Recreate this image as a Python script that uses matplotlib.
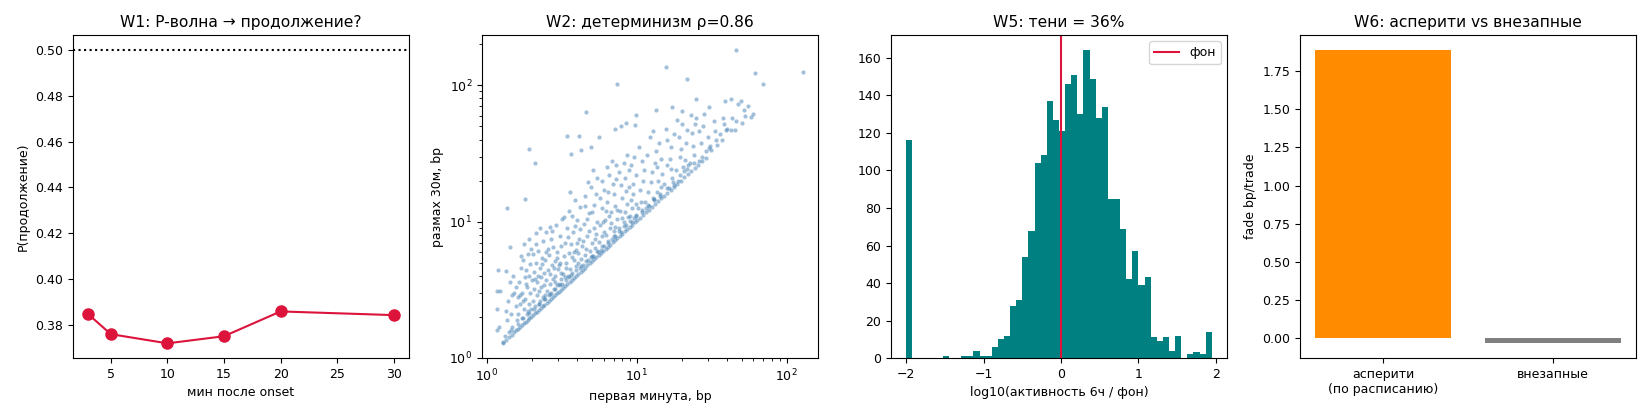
import numpy as np
import matplotlib
matplotlib.use("Agg")
import matplotlib.pyplot as plt

plt.rcParams['font.size'] = 9

# ---- W1: P-wave -> continuation
minutes = [3, 5, 10, 15, 20, 30]
p_cont = [0.3848, 0.3761, 0.3721, 0.3752, 0.3860, 0.3844]

# ---- W2: first minute vs 30m range
edge_pts = [(1.28, 1.3), (1.34, 1.36), (1.4, 1.42), (1.46, 1.48), (1.52, 1.54), (1.57, 1.6),
            (1.62, 1.64), (1.67, 1.7), (1.72, 1.75), (1.77, 1.8), (1.82, 1.85), (1.87, 1.9),
            (1.92, 1.95), (1.97, 2.0), (2.03, 2.06), (2.09, 2.12), (2.15, 2.18), (2.21, 2.25),
            (2.28, 2.32), (2.35, 2.39), (2.42, 2.46), (2.5, 2.54), (2.58, 2.62), (2.66, 2.7),
            (2.74, 2.79), (2.83, 2.88), (2.92, 2.97), (3.02, 3.07), (3.12, 3.17), (3.22, 3.28),
            (3.33, 3.39), (3.44, 3.5), (3.56, 3.62), (3.68, 3.75), (3.81, 3.88), (3.94, 4.01),
            (4.08, 4.15), (4.22, 4.3), (4.37, 4.45), (4.52, 4.6), (4.68, 4.77), (4.85, 4.94),
            (5.02, 5.11), (5.2, 5.3), (5.38, 5.48), (5.57, 5.68), (5.77, 5.88), (5.98, 6.1),
            (6.2, 6.32), (6.42, 6.55), (6.65, 6.78), (6.9, 7.03), (7.15, 7.3), (7.4, 7.55),
            (7.7, 7.85), (8.0, 8.15), (8.3, 8.47), (8.6, 8.78), (8.95, 9.13), (9.3, 9.5),
            (9.7, 9.9), (10.1, 10.3), (10.5, 10.7), (11.0, 11.2), (11.5, 11.7), (12.0, 12.25),
            (12.6, 12.85), (13.2, 13.5), (13.8, 14.1), (14.5, 14.8), (15.2, 15.5), (16.0, 16.3),
            (16.8, 17.1), (17.7, 18.0), (18.6, 19.0), (19.6, 20.0), (20.7, 21.1), (21.8, 22.2),
            (23.0, 23.5), (24.3, 24.8), (25.7, 26.2), (27.2, 27.7), (28.8, 29.3),
            (1.45, 1.6), (1.6, 1.78), (1.75, 1.95), (1.9, 2.12), (2.06, 2.3), (2.24, 2.5),
            (2.44, 2.72), (2.62, 2.93), (2.85, 3.18), (3.08, 3.45), (3.35, 3.75), (3.62, 4.05),
            (3.9, 4.38), (4.25, 4.75), (4.6, 5.15), (5.0, 5.6), (5.45, 6.1), (5.9, 6.62),
            (6.4, 7.2), (7.0, 7.85), (7.6, 8.5), (8.25, 9.25), (9.0, 10.1), (9.8, 11.0),
            (10.8, 12.1), (11.8, 13.2), (13.0, 14.6), (14.3, 16.0), (15.8, 17.7), (17.5, 19.6),
            (19.5, 21.8), (21.6, 24.2), (24.0, 26.9)]

cloud_pts = [(1.32, 1.45), (1.36, 1.9), (1.41, 1.55), (1.38, 2.6), (1.45, 2.1), (1.48, 1.7),
             (1.52, 3.0), (1.55, 2.4), (1.58, 1.9), (1.43, 3.6), (1.5, 4.0), (1.57, 3.3),
             (1.34, 2.2), (1.6, 2.8), (1.47, 2.9),
             (1.62, 2.1), (1.64, 3.6), (1.66, 2.5), (1.68, 4.6), (1.7, 1.95), (1.72, 3.0),
             (1.74, 5.2), (1.76, 2.3), (1.78, 3.9), (1.8, 2.7), (1.82, 4.4), (1.84, 2.1),
             (1.86, 3.3), (1.88, 5.8), (1.9, 2.5), (1.92, 4.0), (1.94, 3.0), (1.96, 6.3),
             (1.98, 2.3), (1.99, 3.7), (1.65, 2.9), (1.73, 2.6), (1.81, 3.5), (1.87, 2.2),
             (1.95, 4.9), (1.69, 5.6), (1.77, 6.9), (1.91, 7.4),
             (2.02, 2.6), (2.05, 3.2), (2.07, 4.3), (2.1, 2.4), (2.12, 5.0), (2.15, 3.6),
             (2.17, 2.9), (2.2, 6.1), (2.22, 3.1), (2.25, 4.6), (2.27, 2.6), (2.3, 3.9),
             (2.32, 5.4), (2.35, 2.8), (2.37, 7.2), (2.4, 3.4), (2.42, 4.2), (2.45, 2.9),
             (2.47, 6.0), (2.49, 3.7), (2.04, 5.8), (2.13, 8.2), (2.21, 2.5), (2.28, 3.3),
             (2.34, 4.9), (2.44, 5.2), (2.09, 3.8), (2.18, 4.0), (2.39, 2.7), (2.26, 9.0),
             (2.46, 8.4), (2.11, 6.8),
             (2.52, 3.1), (2.55, 4.4), (2.58, 2.9), (2.6, 5.7), (2.63, 3.5), (2.66, 7.4),
             (2.68, 3.0), (2.71, 4.8), (2.74, 3.8), (2.77, 6.5), (2.8, 3.2), (2.83, 5.1),
             (2.86, 4.0), (2.89, 9.5), (2.92, 3.4), (2.95, 6.0), (2.98, 4.5), (3.01, 3.5),
             (3.05, 7.8), (3.08, 5.0), (3.11, 3.8), (3.14, 4.2), (3.18, 10.5), (2.57, 6.3),
             (2.65, 4.1), (2.73, 8.6), (2.84, 3.6), (2.93, 5.4), (3.03, 4.8), (3.12, 6.6),
             (2.62, 9.2), (2.79, 4.6), (3.16, 3.5),
             (3.22, 4.1), (3.26, 5.6), (3.3, 3.9), (3.34, 7.0), (3.38, 4.6), (3.42, 9.0),
             (3.46, 4.0), (3.5, 5.9), (3.55, 12.0), (3.6, 4.5), (3.65, 6.8), (3.7, 4.2),
             (3.75, 8.4), (3.8, 5.2), (3.85, 14.5), (3.9, 4.7), (3.95, 6.2), (4.0, 10.2),
             (4.05, 5.0), (4.1, 7.5), (4.15, 4.6), (4.2, 12.8), (3.28, 10.8), (3.48, 7.7),
             (3.68, 5.5), (3.88, 9.3), (4.08, 5.9), (3.36, 5.0), (3.58, 16.5), (3.78, 6.0),
             (3.98, 7.0), (4.18, 8.8), (3.52, 3.9), (3.72, 11.0),
             (4.25, 5.3), (4.3, 6.6), (4.36, 4.8), (4.42, 9.6), (4.48, 5.7), (4.54, 15.5),
             (4.6, 6.3), (4.66, 7.9), (4.72, 5.2), (4.78, 11.5), (4.85, 6.1), (4.92, 18.0),
             (5.0, 7.0), (5.07, 5.6), (5.14, 9.0), (5.21, 13.2), (5.28, 6.4), (5.35, 8.1),
             (5.42, 21.0), (5.5, 6.0), (4.4, 7.2), (4.62, 10.4), (4.82, 8.5), (5.04, 11.8),
             (5.24, 7.4), (5.46, 10.0), (4.5, 13.0), (4.95, 5.5), (5.32, 16.0), (4.7, 19.5),
             (5.1, 24.0),
             (5.58, 7.1), (5.66, 9.4), (5.74, 6.2), (5.82, 12.5), (5.9, 7.8), (6.0, 17.0),
             (6.08, 6.6), (6.16, 10.2), (6.25, 8.0), (6.34, 14.0), (6.43, 7.0), (6.52, 22.0),
             (6.6, 9.0), (6.7, 11.8), (6.8, 7.5), (6.9, 19.0), (7.0, 8.6), (7.1, 13.0),
             (7.2, 7.8), (7.3, 26.0), (7.4, 10.5), (5.7, 15.0), (5.95, 9.9), (6.2, 12.0),
             (6.45, 16.5), (6.75, 9.8), (7.05, 16.0), (7.35, 12.2), (5.86, 20.0), (6.3, 25.0),
             (6.85, 28.0), (7.25, 20.5), (6.05, 8.4), (6.55, 11.0), (7.15, 9.2),
             (7.55, 9.0), (7.7, 12.0), (7.85, 8.4), (8.0, 15.0), (8.15, 10.0), (8.3, 21.0),
             (8.45, 9.4), (8.6, 13.5), (8.75, 10.8), (8.9, 18.0), (9.05, 11.0), (9.2, 26.0),
             (9.35, 12.5), (9.5, 16.0), (9.65, 10.6), (9.8, 22.0), (9.95, 13.5), (7.8, 18.5),
             (8.2, 27.0), (8.65, 31.0), (9.1, 14.5), (9.6, 30.0), (7.65, 23.0), (8.4, 11.8),
             (8.85, 24.0), (9.4, 19.0), (9.9, 11.2), (7.95, 10.6), (8.5, 16.8), (9.25, 9.9),
             (10.2, 12.5), (10.5, 17.0), (10.8, 11.8), (11.1, 24.0), (11.4, 14.0), (11.7, 31.0),
             (12.0, 13.0), (12.4, 19.5), (12.8, 15.0), (13.2, 27.0), (13.6, 16.5), (14.0, 38.0),
             (14.4, 18.0), (14.8, 22.5), (10.4, 35.0), (11.0, 20.0), (11.6, 12.6), (12.2, 42.0),
             (12.6, 23.0), (13.0, 14.5), (13.4, 33.0), (13.9, 20.0), (14.6, 29.0), (10.9, 28.0),
             (11.9, 16.5), (12.9, 46.0), (14.2, 15.5), (10.6, 14.0), (13.7, 25.0),
             (15.3, 19.0), (15.8, 26.0), (16.3, 17.5), (16.8, 35.0), (17.3, 21.0), (17.8, 44.0),
             (18.3, 24.0), (18.8, 20.0), (19.4, 30.0), (20.0, 52.0), (20.6, 23.5), (21.2, 38.0),
             (21.8, 26.0), (15.6, 48.0), (16.6, 29.0), (17.6, 18.5), (18.6, 56.0), (19.8, 34.0),
             (21.0, 28.5), (16.0, 40.0), (17.0, 24.5), (19.0, 42.0), (20.3, 25.0), (21.5, 47.0),
             (22.5, 27.0), (23.3, 45.0), (24.1, 31.0), (25.0, 58.0), (25.9, 28.0), (26.8, 38.0),
             (27.8, 50.0), (28.8, 33.0), (29.8, 42.0), (31.0, 36.0), (32.5, 55.0), (34.0, 40.0),
             (23.8, 36.0), (26.0, 46.0), (28.0, 62.0), (30.2, 34.5), (33.0, 46.0), (24.6, 52.0),
             (27.2, 30.0),
             (36.0, 44.0), (38.0, 52.0), (40.0, 48.0), (43.0, 58.0), (46.0, 55.0), (52.0, 66.0),
             (55.0, 70.0), (60.0, 62.0)]

outlier_pts = [(45.8, 182), (15.6, 136), (21.6, 111), (61.4, 122), (69.8, 102), (7.36, 102),
               (24.7, 79), (4.55, 63.6), (13.4, 65.4), (38.7, 76.6), (42.4, 78.8), (49.4, 76.6),
               (47.3, 72.5), (30.5, 68.9), (3.41, 42.3), (4.1, 42.3), (5.57, 41.4), (9.86, 60.1),
               (57.6, 58.2), (52.8, 60), (50, 52.5), (45, 47.2), (42.4, 47.2), (39.1, 46.6),
               (37.7, 57.4), (37, 39.4), (34.3, 36.7), (31.1, 33.3), (8.5, 52.9), (9.76, 51.5),
               (7.8, 50), (7.1, 48), (17.3, 68.7), (20, 65), (22.9, 61), (1.92, 33.8),
               (2.1, 27.1), (1.35, 12.6), (1.8, 14.7), (1.43, 6.5), (1.19, 4.4), (1.33, 4.35),
               (1.17, 3.1), (1.22, 3.1), (1.17, 2.3), (1.17, 1.6), (1.2, 1.7), (1.27, 1.28),
               (3.65, 31.5), (4.25, 33.4), (4.96, 35), (128, 125)]

# ---- W5: histogram of log10(activity 6h / background), 50 bins
act_lo, act_hi = -2.0, 1.946
act_counts = [116, 0, 0, 0, 0, 0, 1, 0, 0, 1,
              1, 4, 1, 1, 6, 10, 12, 28, 31, 54,
              68, 104, 108, 137, 127, 121, 146, 151, 130, 164,
              149, 128, 134, 85, 85, 69, 42, 57, 39, 43,
              11, 9, 11, 4, 12, 0, 2, 3, 2, 14]

# ---- W6: fade per trade
groups = ['асперити\n(по расписанию)', 'внезапные']
fade = [1.889, -0.032]
bar_colors = ['darkorange', 'gray']

fig, axes = plt.subplots(1, 4, figsize=(16.5, 4.18), dpi=100)
plt.subplots_adjust(left=0.0442, right=0.9915, top=0.916, bottom=0.1435, wspace=0.217)

ax = axes[0]
ax.plot(minutes, p_cont, marker='o', color='crimson', markersize=8)
ax.axhline(0.5, color='k', linestyle=':')
ax.set_title("W1: P-волна → продолжение?", fontsize=11.2)
ax.set_xlabel("мин после onset")
ax.set_ylabel("P(продолжение)")

ax = axes[1]
all_pts = edge_pts + cloud_pts + outlier_pts
first_min = [p[0] for p in all_pts]
range_30 = [p[1] for p in all_pts]
ax.scatter(first_min, range_30, s=9, alpha=0.5, color='steelblue', linewidths=0)
ax.set_xscale('log')
ax.set_yscale('log')
ax.set_title("W2: детерминизм ρ=0.86", fontsize=11.2)
ax.set_xlabel("первая минута, bp")
ax.set_ylabel("размах 30м, bp")

ax = axes[2]
edges = np.linspace(act_lo, act_hi, len(act_counts) + 1)
ax.stairs(act_counts, edges, fill=True, color='teal')
ax.axvline(0, color='crimson', label='фон')
ax.set_xlim(-2.197, 2.143)
ax.set_ylim(0, 172.2)
ax.legend(loc='upper right')
ax.set_title("W5: тени = 36%", fontsize=11.2)
ax.set_xlabel("log10(активность 6ч / фон)")

ax = axes[3]
ax.bar(groups, fade, color=bar_colors)
ax.set_title("W6: асперити vs внезапные", fontsize=11.2)
ax.set_ylabel("fade bp/trade")

plt.savefig("out.png", dpi=100)
